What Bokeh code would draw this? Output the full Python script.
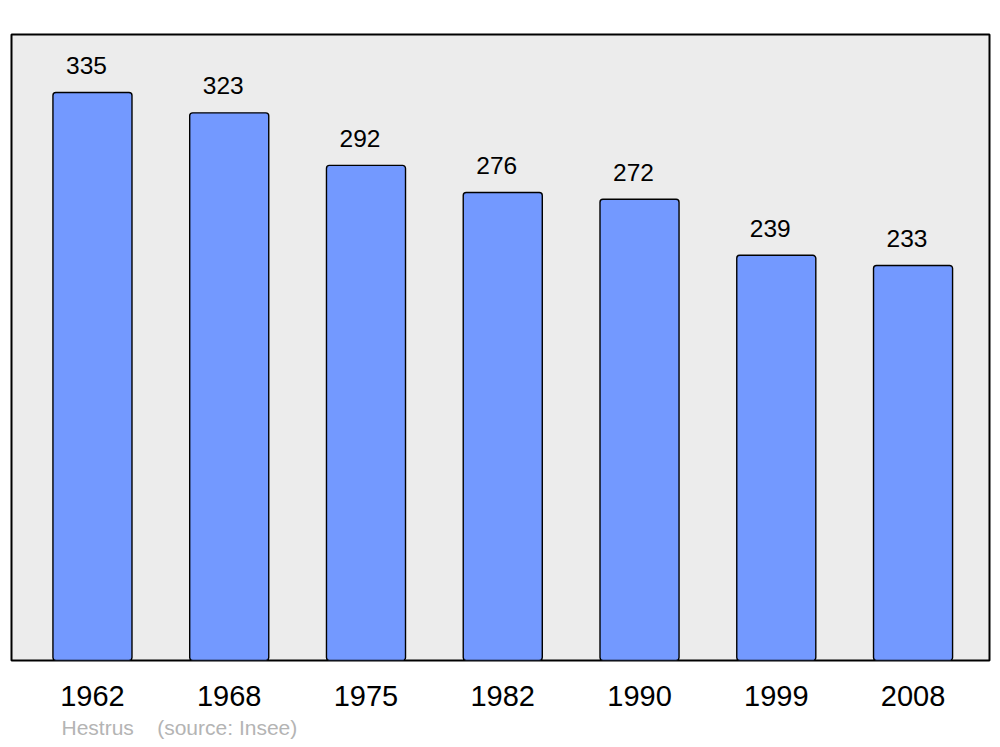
from bokeh.plotting import figure
from bokeh.models import ColumnDataSource, FixedTicker, Range1d, Title
from bokeh.embed import file_html
from bokeh.resources import INLINE
from bokeh.core.properties import value

years = ["1962", "1968", "1975", "1982", "1990", "1999", "2008"]
population = [335, 323, 292, 276, 272, 239, 233]
town = "Hestrus"
source_note = "(source: Insee)"

xs = list(range(len(years)))
src = ColumnDataSource(dict(x=xs, top=population, label=[str(v) for v in population]))

p = figure(width=992, height=747, output_backend="svg", toolbar_location=None,
           x_range=Range1d(-0.592, 6.559), y_range=Range1d(0, 369.2),
           min_border_left=11, min_border_right=3, min_border_top=34, min_border_bottom=87)
p.background_fill_color = "#ececec"
p.border_fill_color = "white"
p.outline_line_color = "black"
p.outline_line_width = 2
p.grid.visible = False
p.yaxis.visible = False

p.vbar(x="x", top="top", bottom=0, width=0.578, source=src,
       fill_color="#7399ff", line_color="black", line_width=1.4,
       border_radius=3)
p.text(x="x", y="top", text="label", source=src, text_align="center",
       text_baseline="middle", x_offset=-6, y_offset=-27, text_font_size="24.5px",
       text_color="black", text_font=value("Liberation Sans"))

xa = p.xaxis[0]
xa.ticker = FixedTicker(ticks=xs)
xa.major_label_overrides = {i: y for i, y in enumerate(years)}
xa.axis_line_color = None
xa.major_tick_line_color = None
xa.minor_tick_line_color = None
xa.major_tick_out = 0
xa.major_tick_in = 0
xa.major_label_standoff = 25
xa.major_label_text_font_size = "29px"
xa.major_label_text_color = "black"
xa.major_label_text_font = "Liberation Sans"

note = town + "\u00a0\u00a0\u00a0\u00a0" + source_note
p.add_layout(Title(text=note, align="left", offset=50, text_font_size="21px",
                   text_font_style="normal", text_color="#b4b4b4",
                   text_font="Liberation Sans", standoff=11), "below")

open("out.html", "w").write(file_html(p, INLINE))
